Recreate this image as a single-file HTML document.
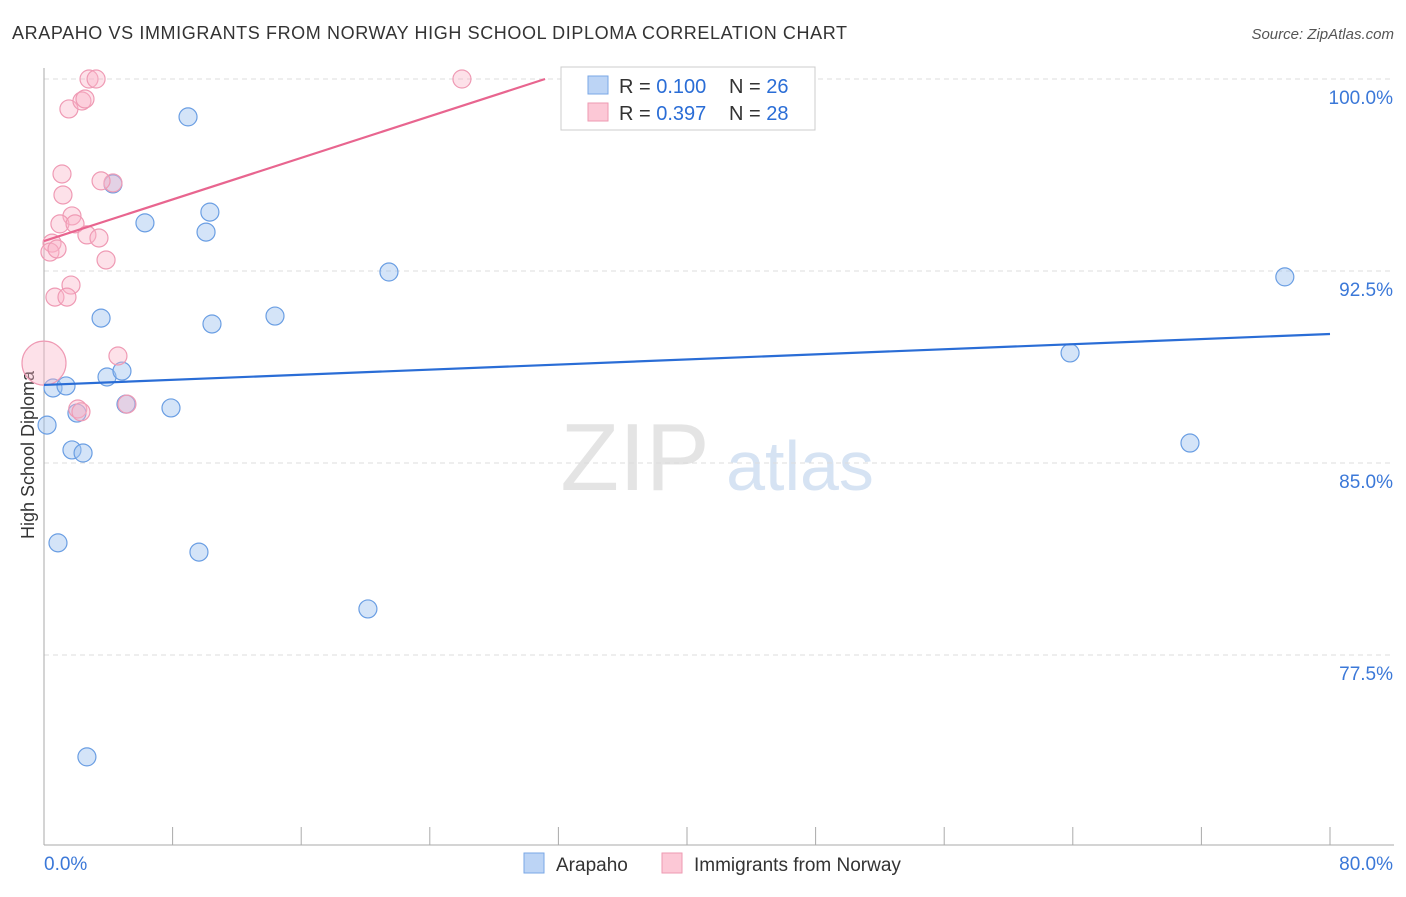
<!DOCTYPE html>
<html><head><meta charset="utf-8"><style>
body{margin:0;background:#fff;font-family:"Liberation Sans",sans-serif}
svg text{font-family:"Liberation Sans",sans-serif}
</style></head><body>
<svg id="c" width="1406" height="892">
<text x="12" y="39" font-size="18" fill="#333" textLength="835">ARAPAHO VS IMMIGRANTS FROM NORWAY HIGH SCHOOL DIPLOMA CORRELATION CHART</text>
<text x="1394" y="39" font-size="15" fill="#555" font-style="italic" text-anchor="end">Source: ZipAtlas.com</text>
<text x="635" y="490" font-size="96" fill="#e4e4e4" font-family="Liberation Serif" text-anchor="middle">ZIP</text>
<text x="800" y="490" font-size="70" fill="#d6e3f3" text-anchor="middle">atlas</text>
<text transform="translate(34,455) rotate(-90)" font-size="18" fill="#333" text-anchor="middle">High School Diploma</text>
<g id="grid"></g><g id="pts"></g><g id="lines"></g>
<g>
<rect x="561" y="67" width="254" height="63" fill="#fff" stroke="#ccc"/>
<rect x="588" y="76" width="20" height="18" fill="#bcd4f5" stroke="#7aa7e6"/>
<rect x="588" y="103" width="20" height="18" fill="#fcc8d6" stroke="#ee9ab2"/>
<text x="619" y="93" font-size="20" fill="#333">R = <tspan fill="#2a6dd6">0.100</tspan><tspan x="729">N = </tspan><tspan fill="#2a6dd6">26</tspan></text>
<text x="619" y="120" font-size="20" fill="#333">R = <tspan fill="#2a6dd6">0.397</tspan><tspan x="729">N = </tspan><tspan fill="#2a6dd6">28</tspan></text>
</g>
<g>
<rect x="524" y="853" width="20" height="20" fill="#bcd4f5" stroke="#7aa7e6"/>
<text x="556" y="871" font-size="19" fill="#333">Arapaho</text>
<rect x="662" y="853" width="20" height="20" fill="#fcc8d6" stroke="#ee9ab2"/>
<text x="694" y="871" font-size="19" fill="#333">Immigrants from Norway</text>
</g>
</svg>
<script>
const yTicks=[100,92.5,85,77.5];
const yTickLabels=["100.0%","92.5%","85.0%","77.5%"];
const xTickCount=11;
const blueX=[8.96,4.29,6.28,10.32,10.08,21.46,77.19,3.55,10.45,14.37,63.83,0.56,1.37,3.92,4.85,0.19,2.05,5.1,7.9,1.74,2.43,71.29,0.87,9.64,20.15,2.67];
const blueY=[98.52,95.9,94.38,94.8,94.02,92.46,92.27,90.66,90.43,90.74,89.3,87.93,88.01,88.36,88.59,86.48,86.95,87.3,87.15,85.51,85.39,85.78,81.88,81.52,79.3,73.52];
const pinkX=[2.8,3.24,26.0,33.03,1.55,2.36,2.55,4.29,3.55,1.12,1.18,1.74,0.99,1.93,2.67,3.42,0.5,0.37,0.81,3.86,1.68,0.68,1.43,4.6,0,2.1,5.16,2.3];
const pinkY=[100,100,100,100,98.83,99.14,99.22,95.94,96.02,96.29,95.47,94.65,94.34,94.34,93.91,93.79,93.59,93.24,93.36,92.93,91.95,91.48,91.48,89.18,88.9,87.11,87.3,87.0];
const pinkR=[9,9,9,9,9,9,9,9,9,9,9,9,9,9,9,9,9,9,9,9,9,9,9,9,22,9,9,9];
const blueLine=[[0,88.05],[80,90.04]];
const pinkLine=[[0,93.67],[31.17,100]];
const X=v=>44+v/80*1286, Y=v=>79+(100-v)*25.6;
const NS="http://www.w3.org/2000/svg";
function mk(t,a,p){const e=document.createElementNS(NS,t);for(const k in a)e.setAttribute(k,a[k]);document.getElementById(p).appendChild(e);return e;}
yTicks.forEach((t,i)=>{
 const l=mk('line',{x1:44,x2:1394,y1:Y(t),y2:Y(t),stroke:'#ddd','stroke-dasharray':'5,4'},'grid');
 
 
 const tx=mk('text',{x:1393,y:Y(t)+25,'font-size':19,fill:'#3b78d8','text-anchor':'end'},'grid');tx.textContent=yTickLabels[i];
 
 
});
mk('line',{x1:44,x2:44,y1:68,y2:845,stroke:'#aaa'},'grid');
mk('line',{x1:44,x2:1394,y1:845,y2:845,stroke:'#aaa'},'grid');
for(let i=0;i<xTickCount;i++){const x=X(i*8);const t=mk('line',{x1:x,x2:x,y1:827,y2:845,stroke:'#aaa'},'grid');
 
 }
let a=mk('text',{x:44,y:870,'font-size':19,fill:'#3b78d8'},'grid');a.textContent='0.0%';


a=mk('text',{x:1393,y:870,'font-size':19,fill:'#3b78d8','text-anchor':'end'},'grid');a.textContent='80.0%';


blueX.forEach((v,i)=>{const c=mk('circle',{cx:X(v),cy:Y(blueY[i]),r:9,fill:'rgba(160,196,240,0.45)',stroke:'#6a9ee3','stroke-width':1.2},'pts');
 
 });
pinkX.forEach((v,i)=>{const c=mk('circle',{cx:X(v),cy:Y(pinkY[i]),r:pinkR[i],fill:'rgba(250,180,200,0.4)',stroke:'#ef9ab4','stroke-width':1.2},'pts');
 
 });
let b=mk('line',{x1:X(blueLine[0][0]),y1:Y(blueLine[0][1]),x2:X(blueLine[1][0]),y2:Y(blueLine[1][1]),stroke:'#2a6dd6','stroke-width':2.2},'lines');


b=mk('line',{x1:X(pinkLine[0][0]),y1:Y(pinkLine[0][1]),x2:X(pinkLine[1][0]),y2:Y(pinkLine[1][1]),stroke:'#e8658f','stroke-width':2.2},'lines');


</script>
</body></html>
